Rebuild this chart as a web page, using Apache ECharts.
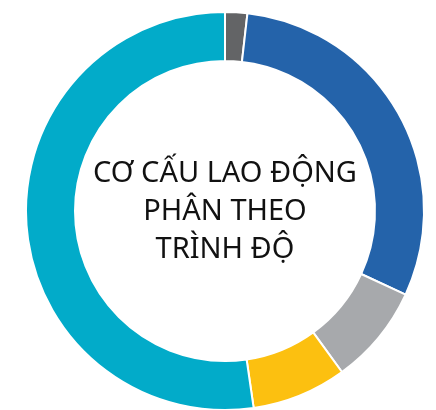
<!DOCTYPE html>
<html>
<head>
<meta charset="utf-8">
<script src="https://cdn.jsdelivr.net/npm/echarts@6/dist/echarts.min.js"></script>
<style>
html,body{margin:0;padding:0;background:#fff;}
#chart{width:436px;height:410px;}
</style>
</head>
<body>
<div id="chart"></div>
<script>
const categories = ['Nhóm 1', 'Nhóm 2', 'Nhóm 3', 'Nhóm 4', 'Nhóm 5'];
const values = [1.8, 30.1, 8.1, 7.7, 52.3];
const colors = ['#636466', '#2463aa', '#a7a9ac', '#fcc010', '#02abc9'];
const centerTitle = 'CƠ CẤU LAO ĐỘNG\nPHÂN THEO\nTRÌNH ĐỘ';

const chart = echarts.init(document.getElementById('chart'), null, {renderer: 'canvas'});
chart.setOption({
  animation: false,
  backgroundColor: '#ffffff',
  graphic: [{
    type: 'text',
    x: 225, y: 212,
    style: {
      text: centerTitle,
      align: 'center',
      verticalAlign: 'middle',
      font: '29px "Noto Sans"',
      lineHeight: 38,
      fill: '#111111'
    }
  }],
  series: [{
    type: 'pie',
    center: [225, 211],
    radius: [150, 199],
    startAngle: 90,
    clockwise: true,
    label: {show: false},
    labelLine: {show: false},
    itemStyle: {borderColor: '#ffffff', borderWidth: 2},
    data: categories.map((c, i) => ({name: c, value: values[i], itemStyle: {color: colors[i]}}))
  }]
});
</script>
</body>
</html>
